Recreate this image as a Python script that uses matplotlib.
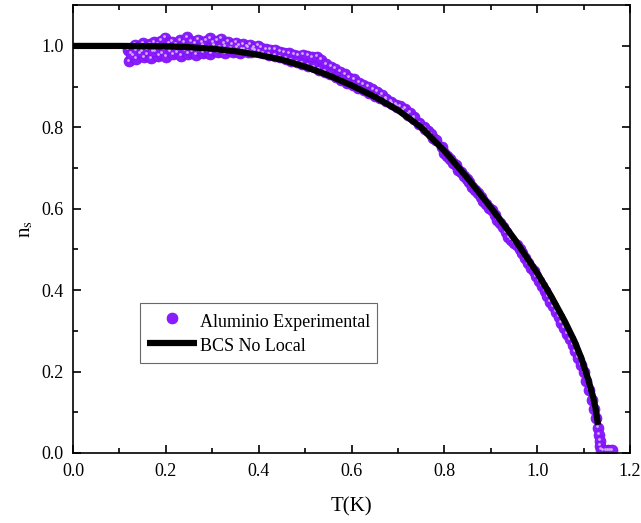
import numpy as np
import matplotlib
matplotlib.use('Agg')
import matplotlib.pyplot as plt
from matplotlib.ticker import MultipleLocator, FormatStrFormatter

plt.rcParams['font.family'] = ['Liberation Serif', 'DejaVu Serif']
plt.rcParams['mathtext.fontset'] = 'stix'

# BCS no local curve
t_bcs = [0.0, 0.10, 0.20, 0.25, 0.30, 0.35, 0.40, 0.45, 0.50, 0.55, 0.60, 0.65, 0.70,
         0.75, 0.80, 0.85, 0.90, 0.95, 1.00, 1.03, 1.06, 1.08, 1.095, 1.11, 1.12, 1.126, 1.131]
ns_bcs = [1.000, 1.000, 0.999, 0.997, 0.993, 0.987, 0.978, 0.966, 0.949, 0.928, 0.903, 0.875, 0.842,
          0.800, 0.742, 0.675, 0.603, 0.527, 0.442, 0.385, 0.322, 0.275, 0.233, 0.180, 0.139, 0.107, 0.069]

# aluminium measurements, low temperature band
t_low = [0.118, 0.126, 0.134, 0.142, 0.150, 0.158, 0.166, 0.174, 0.182, 0.190, 0.198, 0.206,
         0.214, 0.222, 0.230, 0.238, 0.246, 0.254, 0.262, 0.270, 0.278, 0.286, 0.294, 0.302,
         0.310, 0.318, 0.326, 0.334, 0.342, 0.350, 0.358, 0.366, 0.374, 0.382, 0.390, 0.398,
         0.120, 0.128, 0.136, 0.144, 0.152, 0.160, 0.168, 0.176, 0.184, 0.192, 0.200, 0.208,
         0.216, 0.224, 0.232, 0.240, 0.248, 0.256, 0.264, 0.272, 0.280, 0.288, 0.296, 0.304,
         0.312, 0.320, 0.328, 0.336, 0.344, 0.352, 0.360, 0.368, 0.376, 0.384, 0.392, 0.400,
         0.124, 0.136, 0.148, 0.160, 0.172, 0.184, 0.196, 0.208, 0.220, 0.232, 0.244, 0.256,
         0.268, 0.280, 0.292, 0.304, 0.316, 0.328, 0.340, 0.352, 0.364, 0.376, 0.388]
ns_low = [0.990, 0.995, 1.003, 0.998, 1.006, 1.001, 1.004, 1.009, 1.003, 1.012, 1.020, 1.006,
          1.010, 1.004, 1.014, 1.008, 1.021, 1.011, 1.006, 1.015, 1.009, 1.013, 1.019, 1.008,
          1.012, 1.017, 1.006, 1.010, 1.003, 1.007, 1.000, 1.004, 0.998, 1.003, 0.997, 1.001,
          0.962, 0.975, 0.968, 0.982, 0.972, 0.978, 0.970, 0.985, 0.976, 0.981, 0.974, 0.987,
          0.979, 0.983, 0.976, 0.988, 0.981, 0.985, 0.978, 0.990, 0.983, 0.986, 0.980, 0.989,
          0.984, 0.987, 0.982, 0.990, 0.985, 0.988, 0.983, 0.990, 0.986, 0.984, 0.988, 0.985,
          0.980, 0.988, 0.985, 0.992, 0.987, 0.994, 0.990, 0.996, 0.992, 0.997, 0.993, 0.999,
          0.995, 1.000, 0.996, 1.001, 0.997, 0.999, 0.994, 0.997, 0.992, 0.995, 0.990]

# intermediate temperatures
t_mid = [0.405, 0.415, 0.425, 0.435, 0.445, 0.455, 0.465, 0.475, 0.485, 0.495, 0.505, 0.515,
         0.525, 0.535, 0.545, 0.555, 0.565, 0.575, 0.585, 0.595, 0.605, 0.615, 0.625, 0.635,
         0.645, 0.655, 0.665, 0.675, 0.685, 0.695, 0.705, 0.715, 0.725, 0.735, 0.745, 0.755,
         0.765, 0.775,
         0.410, 0.422, 0.434, 0.446, 0.458, 0.470, 0.482, 0.494, 0.506, 0.518, 0.530, 0.542,
         0.554, 0.566, 0.578, 0.590, 0.602, 0.614, 0.626, 0.638, 0.650, 0.662, 0.674, 0.686,
         0.698, 0.710, 0.722, 0.734, 0.746, 0.758, 0.770, 0.782, 0.794]
ns_mid = [0.995, 0.992, 0.990, 0.991, 0.986, 0.983, 0.982, 0.978, 0.976, 0.978, 0.976, 0.972,
          0.974, 0.966, 0.955, 0.948, 0.944, 0.936, 0.930, 0.922, 0.918, 0.910, 0.905, 0.900,
          0.893, 0.888, 0.880, 0.870, 0.862, 0.855, 0.852, 0.845, 0.835, 0.825, 0.810, 0.800,
          0.790, 0.775,
          0.982, 0.978, 0.975, 0.972, 0.968, 0.964, 0.960, 0.956, 0.951, 0.947, 0.942, 0.936,
          0.930, 0.923, 0.917, 0.910, 0.903, 0.897, 0.891, 0.884, 0.878, 0.872, 0.865, 0.858,
          0.851, 0.842, 0.831, 0.820, 0.808, 0.796, 0.783, 0.768, 0.752]

# approach to Tc and the normal state tail
t_high = [0.800, 0.806, 0.812, 0.818, 0.824, 0.830, 0.836, 0.842, 0.848, 0.854, 0.860, 0.866,
          0.872, 0.878, 0.884, 0.890, 0.896, 0.902, 0.908, 0.914, 0.920, 0.926, 0.932, 0.938,
          0.944, 0.950, 0.956, 0.962, 0.968, 0.974, 0.980, 0.986, 0.992, 0.998, 1.004, 1.010,
          1.016, 1.022, 1.028, 1.034, 1.040, 1.046, 1.052, 1.058, 1.064, 1.070, 1.076, 1.082,
          1.088, 1.094, 1.100, 1.106, 1.112, 1.118, 1.122, 1.126, 1.130, 1.133, 1.135, 1.136,
          1.137, 1.142, 1.147, 1.152, 1.157, 1.161]
ns_high = [0.738, 0.730, 0.723, 0.712, 0.707, 0.696, 0.690, 0.681, 0.673, 0.666, 0.654, 0.647,
           0.638, 0.630, 0.619, 0.611, 0.603, 0.596, 0.585, 0.572, 0.566, 0.555, 0.542, 0.530,
           0.523, 0.516, 0.510, 0.500, 0.490, 0.478, 0.466, 0.455, 0.446, 0.434, 0.423, 0.410,
           0.398, 0.385, 0.372, 0.360, 0.347, 0.334, 0.320, 0.307, 0.293, 0.279, 0.265, 0.250,
           0.234, 0.216, 0.198, 0.177, 0.155, 0.130, 0.108, 0.085, 0.062, 0.045, 0.030, 0.018,
           0.008, 0.006, 0.005, 0.006, 0.005, 0.006]

t_exp = np.array(t_low + t_mid + t_high)
ns_exp = np.array(ns_low + ns_mid + ns_high)

purple = '#8a1cff'

fig, ax = plt.subplots(figsize=(6.41, 5.23), dpi=100)
fig.subplots_adjust(left=0.114, right=0.983, top=0.99, bottom=0.134)

# spheres: purple body with a small pale highlight
ax.scatter(t_exp, ns_exp, s=62, color=purple, edgecolors='#7a10f0', linewidths=0.5, zorder=2,
           label='Aluminio Experimental')
ax.scatter(t_exp - 0.002, ns_exp + 0.004, s=4, color='#d2adff', linewidths=0, zorder=2)
ax.plot(t_bcs, ns_bcs, color='black', lw=4.5, solid_capstyle='butt', solid_joinstyle='round',
        zorder=3, label='BCS No Local')

ax.set_xlim(0, 1.2)
ax.set_ylim(0, 1.1)
ax.xaxis.set_major_locator(MultipleLocator(0.2))
ax.xaxis.set_minor_locator(MultipleLocator(0.1))
ax.yaxis.set_minor_locator(MultipleLocator(0.1))
ax.set_yticks([0.0, 0.2, 0.4, 0.6, 0.8, 1.0])
ax.xaxis.set_major_formatter(FormatStrFormatter('%.1f'))
ax.yaxis.set_major_formatter(FormatStrFormatter('%.1f'))
ax.tick_params(which='both', direction='in', top=True, right=True, width=1.2, labelsize=13)
ax.tick_params(which='major', length=6, pad=7)
ax.tick_params(which='minor', length=3.5)
for sp in ax.spines.values():
    sp.set_linewidth(1.2)

ax.set_xlabel('T(K)', fontsize=15, labelpad=13)
ax.set_ylabel(r'n$_{\rm s}$', fontsize=15, labelpad=4)

leg = ax.legend(loc='lower left', bbox_to_anchor=(0.12, 0.2), fontsize=13, frameon=True,
                fancybox=False, edgecolor='#444444', handlelength=2.8, handleheight=1.5,
                handletextpad=0.15, borderpad=0.38, labelspacing=0.15, borderaxespad=0)
leg.get_frame().set_linewidth(0.8)

plt.savefig('out.png', dpi=100)
